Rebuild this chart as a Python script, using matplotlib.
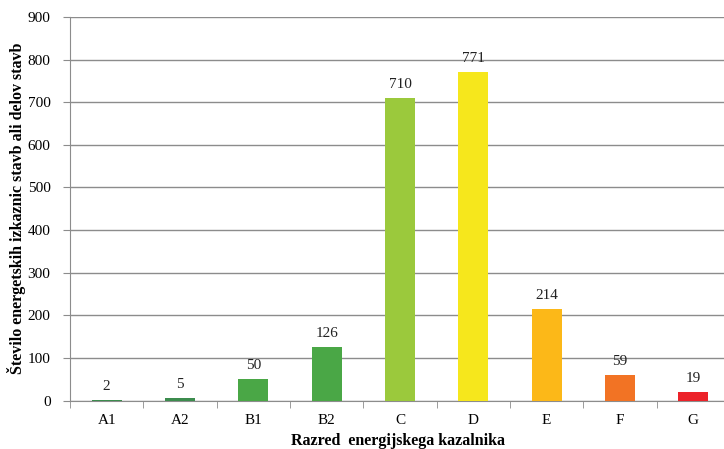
import matplotlib
matplotlib.use("Agg")
import matplotlib.pyplot as plt
from matplotlib.ticker import FixedLocator, MultipleLocator

categories = ["A1", "A2", "B1", "B2", "C", "D", "E", "F", "G"]
counts = [2, 5, 50, 126, 710, 771, 214, 59, 19]
bar_colors = ["#3c8c4e", "#3c8c4e", "#4aa746", "#4aa746", "#9bc93c",
              "#f6e71c", "#fcb818", "#f27324", "#ec2229"]

plt.rcParams["font.family"] = ["Liberation Serif", "DejaVu Serif"]

W, H = 724, 449
fig = plt.figure(figsize=(W / 100, H / 100), dpi=100)
ax = fig.add_axes([70 / W, 1 - 400.5 / H, 660 / W, (400.5 - 17) / H])

x = list(range(len(categories)))
ax.bar(x, counts, width=0.41, color=bar_colors, zorder=3)

for xi, v in zip(x, counts):
    ax.annotate(str(v), (xi, v), xytext=(0, 5), textcoords="offset points",
                ha="center", va="bottom", fontsize=11, color="#222222")

ax.set_xlim(-0.5, len(categories) - 0.5)
ax.set_ylim(0, 900)
ax.yaxis.set_major_locator(MultipleLocator(100))
ax.grid(axis="y", color="#8c8c8c", linewidth=1.0, zorder=0)

ax.set_xticks(x)
ax.set_xticklabels(categories)
ax.xaxis.set_minor_locator(FixedLocator([i - 0.5 for i in range(len(categories) + 1)]))
ax.tick_params(axis="x", which="major", length=0, pad=10, labelsize=11)
ax.tick_params(axis="x", which="minor", length=5, color="#8c8c8c")
ax.tick_params(axis="y", length=5, color="#8c8c8c", labelsize=11, pad=9)

for side in ("top", "right"):
    ax.spines[side].set_visible(False)
for side in ("left", "bottom"):
    ax.spines[side].set_color("#8c8c8c")

fig.text(398 / W, 1 - 441 / H, "Razred  energijskega kazalnika",
         fontsize=11.5, fontweight="bold", ha="center", va="center")
fig.text(17 / W, 1 - 208 / H, "Število energetskih izkaznic stavb ali delov stavb",
         fontsize=11.5, fontweight="bold", rotation=90,
         ha="center", va="center")

fig.savefig("out.png", dpi=100)
